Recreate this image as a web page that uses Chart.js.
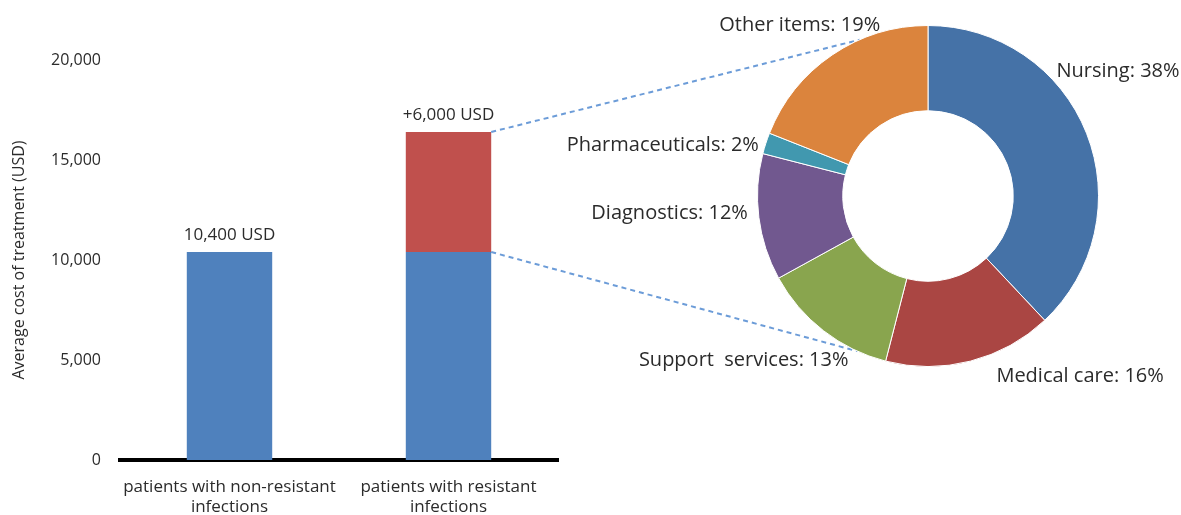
<!DOCTYPE html>
<html>
<head>
<meta charset="utf-8">
<title>Cost of treatment</title>
<script src="https://cdn.jsdelivr.net/npm/chart.js@4.4.0/dist/chart.umd.min.js"></script>
<style>
    html, body { margin: 0; padding: 0; background: #fff; }
    #wrap { position: relative; width: 1181px; height: 515px; }
    #wrap canvas { position: absolute; left: 0; top: 0; }
</style>
</head>
<body>
<div id="wrap">
    <canvas id="costBars" width="1181" height="515"></canvas>
    <canvas id="costShare" width="1181" height="515"></canvas>
</div>
<script>
// Bar chart data
const patientGroups = [
    ["patients with non-resistant", "infections"],
    ["patients with resistant", "infections"],
];
const baseCost = [10400, 10400];
const extraCost = [null, 6000];
const yTicks = [0, 5000, 10000, 15000, 20000];

// Breakdown of the extra cost
const costItems = ["Nursing", "Medical care", "Support  services", "Diagnostics", "Pharmaceuticals", "Other items"];
const costShares = [38, 16, 13, 12, 2, 19];

const FONT = "'Open Sans', 'DejaVu Sans', sans-serif";
const TEXT = "#2b2b2b";
const sliceColours = ["#4572A7", "#AA4643", "#89A54E", "#71588F", "#4198AF", "#DB843D"];

// where each slice label sits relative to the outer edge of its slice
const labelNudge = [[-30, -62], [26, 15], [25, 30], [-11, -4], [-7, 2], [48, -30]];
// points on the ring that the dashed connectors run to (degrees from 12 o'clock)
const connectorAngles = [336.4, 204.5];

const fmt = (v) => v.toLocaleString("en-US");

const barValueLabels = {
    id: "barValueLabels",
    afterDatasetsDraw(chart) {
        const ctx = chart.ctx;
        ctx.save();
        ctx.font = `17px ${FONT}`;
        ctx.fillStyle = TEXT;
        ctx.textAlign = "center";
        ctx.textBaseline = "bottom";
        baseCost.forEach((base, i) => {
            const extra = extraCost[i];
            const el = extra ? chart.getDatasetMeta(1).data[i] : chart.getDatasetMeta(0).data[i];
            const text = extra ? `+${fmt(extra)} USD` : `${fmt(base)} USD`;
            ctx.fillText(text, el.x, el.y - 8);
        });
        ctx.restore();
    },
};

const barChart = new Chart(document.getElementById("costBars"), {
    type: "bar",
    data: {
        labels: patientGroups,
        datasets: [
            { label: "base", data: baseCost, backgroundColor: "#4F81BD", barPercentage: 0.39, categoryPercentage: 1 },
            { label: "extra", data: extraCost, backgroundColor: "#C0504D", barPercentage: 0.39, categoryPercentage: 1 },
        ],
    },
    plugins: [barValueLabels],
    options: {
        responsive: false,
        animation: false,
        layout: { padding: { left: 0, right: 623, top: 60, bottom: 0 } },
        plugins: {
            legend: { display: false },
            tooltip: { enabled: false },
        },
        scales: {
            x: {
                stacked: true,
                grid: { display: false, drawTicks: false },
                border: { display: true, color: "#000", width: 4 },
                ticks: {
                    color: TEXT,
                    font: { family: FONT, size: 17, lineHeight: 1.2 },
                    padding: 17,
                    maxRotation: 0,
                },
                afterFit: (scale) => { scale.height = 55; },
            },
            y: {
                stacked: true,
                min: 0,
                max: 20000,
                afterBuildTicks: (scale) => { scale.ticks = yTicks.map((v) => ({ value: v })); },
                grid: { display: false, drawTicks: false },
                border: { display: false },
                ticks: {
                    color: TEXT,
                    font: { family: FONT, size: 16 },
                    padding: 19,
                    callback: (v) => fmt(v),
                },
                title: {
                    display: true,
                    text: "Average cost of treatment (USD)",
                    color: TEXT,
                    font: { family: FONT, size: 16 },
                    padding: { top: 10, bottom: 0 },
                },
                afterFit: (scale) => { scale.width = 120; },
            },
        },
    },
});

// dashed lines from the top of each bar segment out to the ring
const connectorLines = {
    id: "connectorLines",
    beforeDatasetsDraw(chart) {
        const arc = chart.getDatasetMeta(0).data[0];
        const r = arc.outerRadius;
        const starts = [barChart.getDatasetMeta(1).data[1], barChart.getDatasetMeta(0).data[1]];
        const ctx = chart.ctx;
        ctx.save();
        ctx.strokeStyle = "#6C9CD8";
        ctx.lineWidth = 2;
        ctx.setLineDash([5, 4]);
        starts.forEach((bar, i) => {
            const a = connectorAngles[i] * Math.PI / 180;
            ctx.beginPath();
            ctx.moveTo(bar.x + bar.width / 2, bar.y);
            ctx.lineTo(arc.x + r * Math.sin(a), arc.y - r * Math.cos(a));
            ctx.stroke();
        });
        ctx.restore();
    },
};

const sliceLabels = {
    id: "sliceLabels",
    afterDatasetsDraw(chart) {
        const ctx = chart.ctx;
        ctx.save();
        ctx.font = `20px ${FONT}`;
        ctx.fillStyle = TEXT;
        ctx.textBaseline = "middle";
        chart.getDatasetMeta(0).data.forEach((arc, i) => {
            const mid = (arc.startAngle + arc.endAngle) / 2;
            const px = arc.x + arc.outerRadius * Math.cos(mid);
            const py = arc.y + arc.outerRadius * Math.sin(mid);
            ctx.textAlign = Math.cos(mid) >= 0 ? "left" : "right";
            ctx.fillText(`${costItems[i]}: ${costShares[i]}%`, px + labelNudge[i][0], py + labelNudge[i][1]);
        });
        ctx.restore();
    },
};

new Chart(document.getElementById("costShare"), {
    type: "doughnut",
    data: {
        labels: costItems,
        datasets: [{
            data: costShares,
            backgroundColor: sliceColours,
            borderColor: "#ffffff",
            borderWidth: 1,
        }],
    },
    plugins: [connectorLines, sliceLabels],
    options: {
        responsive: false,
        animation: false,
        cutout: "50%",
        layout: { padding: { left: 757, right: 82, top: 25, bottom: 148 } },
        plugins: {
            legend: { display: false },
            tooltip: { enabled: false },
        },
    },
});
</script>
</body>
</html>
